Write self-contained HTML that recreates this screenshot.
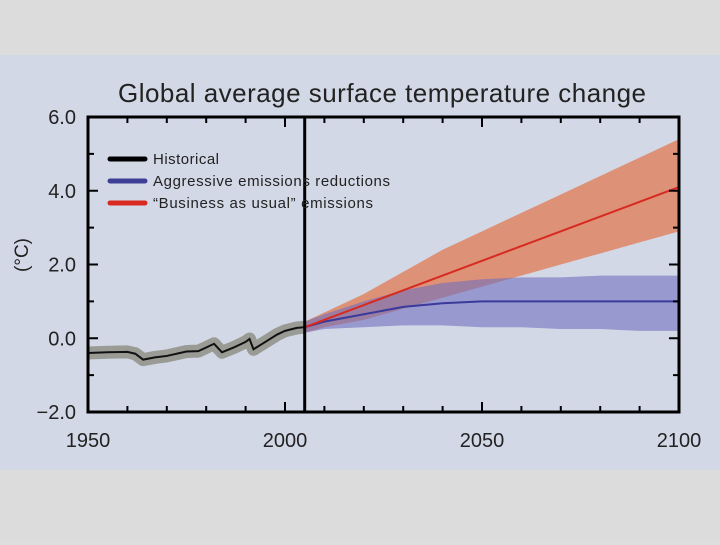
<!DOCTYPE html>
<html><head><meta charset="utf-8"><style>
body{margin:0;width:720px;height:540px;overflow:hidden;background:#dedede;font-family:"Liberation Sans",sans-serif}
</style></head><body>
<svg width="720" height="540" xmlns="http://www.w3.org/2000/svg">
<rect x="0" y="0" width="720" height="540" fill="#dcdcdc"/>
<rect x="0" y="55" width="720" height="415" fill="#d3d8e7"/>
<text x="382" y="102" font-size="26" text-anchor="middle" textLength="528" fill="#222">Global average surface temperature change</text>
<text transform="translate(28,255) rotate(-90)" font-size="19" text-anchor="middle" fill="#222">(°C)</text>
<g id="marks"></g>
<g id="axes"></g>
</svg>
<script>
const histYears=[1950,1955,1960,1962,1964,1967,1970,1975,1978,1980,1982,1984,1987,1990,1991,1992,1995,1998,2000,2003,2005];
const histVals=[-0.4,-0.38,-0.37,-0.42,-0.58,-0.52,-0.48,-0.36,-0.35,-0.25,-0.15,-0.38,-0.25,-0.1,-0.02,-0.3,-0.1,0.1,0.2,0.28,0.3];
const projYears=[2005,2010,2020,2030,2040,2050,2060,2070,2080,2090,2100];
const redMean=[0.3,0.5,0.9,1.3,1.7,2.1,2.5,2.9,3.3,3.7,4.1];
const redLo=[0.15,0.3,0.5,0.8,1.1,1.4,1.7,2.0,2.3,2.6,2.9];
const redHi=[0.45,0.7,1.2,1.8,2.4,2.9,3.4,3.9,4.4,4.9,5.4];
const blueMean=[0.3,0.45,0.65,0.85,0.95,1.0,1.0,1.0,1.0,1.0,1.0];
const blueLo=[0.15,0.25,0.3,0.35,0.35,0.3,0.3,0.25,0.25,0.2,0.2];
const blueHi=[0.45,0.65,1.0,1.3,1.5,1.6,1.65,1.65,1.7,1.7,1.7];
const yTicks=[-2,0,2,4,6];
const yTickLabels=["\u22122.0","0.0","2.0","4.0","6.0"];
const xTicks=[1950,2000,2050,2100];
const divideYear=2005;
const L=88,R=679,T=117,B=412;
const X=y=>L+(y-1950)/150*(R-L);
const Y=v=>B-(v+2)/8*(B-T);
const NS="http://www.w3.org/2000/svg";
const marks=document.getElementById('marks'),axes=document.getElementById('axes');
function mk(tag,attrs,parent){const e=document.createElementNS(NS,tag);for(const k in attrs)e.setAttribute(k,attrs[k]);parent.appendChild(e);return e;}
function band(xs,lo,hi){let d='M'+xs.map((x,i)=>X(x)+','+Y(hi[i])).join('L');for(let i=xs.length-1;i>=0;i--)d+='L'+X(xs[i])+','+Y(lo[i]);return d+'Z';}
function line(xs,v){return 'M'+xs.map((x,i)=>X(x)+','+Y(v[i])).join('L');}
let e;
e=mk('path',{d:line(histYears,histVals),stroke:'#999b94',"stroke-width":13,fill:'none',"stroke-linejoin":'round'},marks);

e=mk('path',{d:band(projYears,redLo,redHi),fill:'#e07a50',opacity:0.75},marks);

e=mk('path',{d:band(projYears,blueLo,blueHi),fill:'#7070c0',opacity:0.6},marks);

e=mk('path',{d:line(histYears,histVals),stroke:'#111',"stroke-width":2,fill:'none'},marks);

e=mk('path',{d:line(projYears,blueMean),stroke:'#3a3a9a',"stroke-width":2,fill:'none'},marks);

e=mk('path',{d:line(projYears,redMean),stroke:'#d82a20',"stroke-width":2,fill:'none'},marks);

e=mk('line',{x1:X(divideYear),x2:X(divideYear),y1:T,y2:B,stroke:'#000',"stroke-width":3},axes);

e=mk('rect',{x:L,y:T,width:R-L,height:B-T,fill:'none',stroke:'#000',"stroke-width":3},axes);

for(let v=-2;v<=6;v+=1){const major=v%2===0;
 e=mk('line',{x1:L,x2:L+(major?10:6),y1:Y(v),y2:Y(v),stroke:'#000',"stroke-width":2},axes);
 
 e=mk('line',{x1:R,x2:R-(major?10:6),y1:Y(v),y2:Y(v),stroke:'#000',"stroke-width":2},axes);
 }
for(let yr=1950;yr<=2100;yr+=10){const major=yr%50===0;
 e=mk('line',{x1:X(yr),x2:X(yr),y1:B,y2:B-(major?10:6),stroke:'#000',"stroke-width":2},axes);
 
 e=mk('line',{x1:X(yr),x2:X(yr),y1:T,y2:T+(major?10:6),stroke:'#000',"stroke-width":2},axes);
 }
yTicks.forEach((v,i)=>{e=mk('text',{x:76,y:Y(v)+7,"font-size":20,"text-anchor":'end',fill:'#222'},axes);e.textContent=yTickLabels[i];
 });
xTicks.forEach(v=>{e=mk('text',{x:X(v),y:447,"font-size":20,"text-anchor":'middle',fill:'#222'},axes);e.textContent=v;
 });
const legendNames=["Historical","Aggressive emissions reductions","\u201cBusiness as usual\u201d emissions"];
const legendColors=["#000","#3e3e96","#d82a20"];
const legendWidths=[66,237,220];
legendNames.forEach((n,i)=>{const y=159+i*22;
 e=mk('line',{x1:110,x2:145,y1:y,y2:y,stroke:legendColors[i],"stroke-width":5,"stroke-linecap":'round'},axes);
 
 e=mk('text',{x:153,y:y+5,"font-size":15,fill:'#222',textLength:legendWidths[i]},axes);e.textContent=n;
 });
</script>
</body></html>
